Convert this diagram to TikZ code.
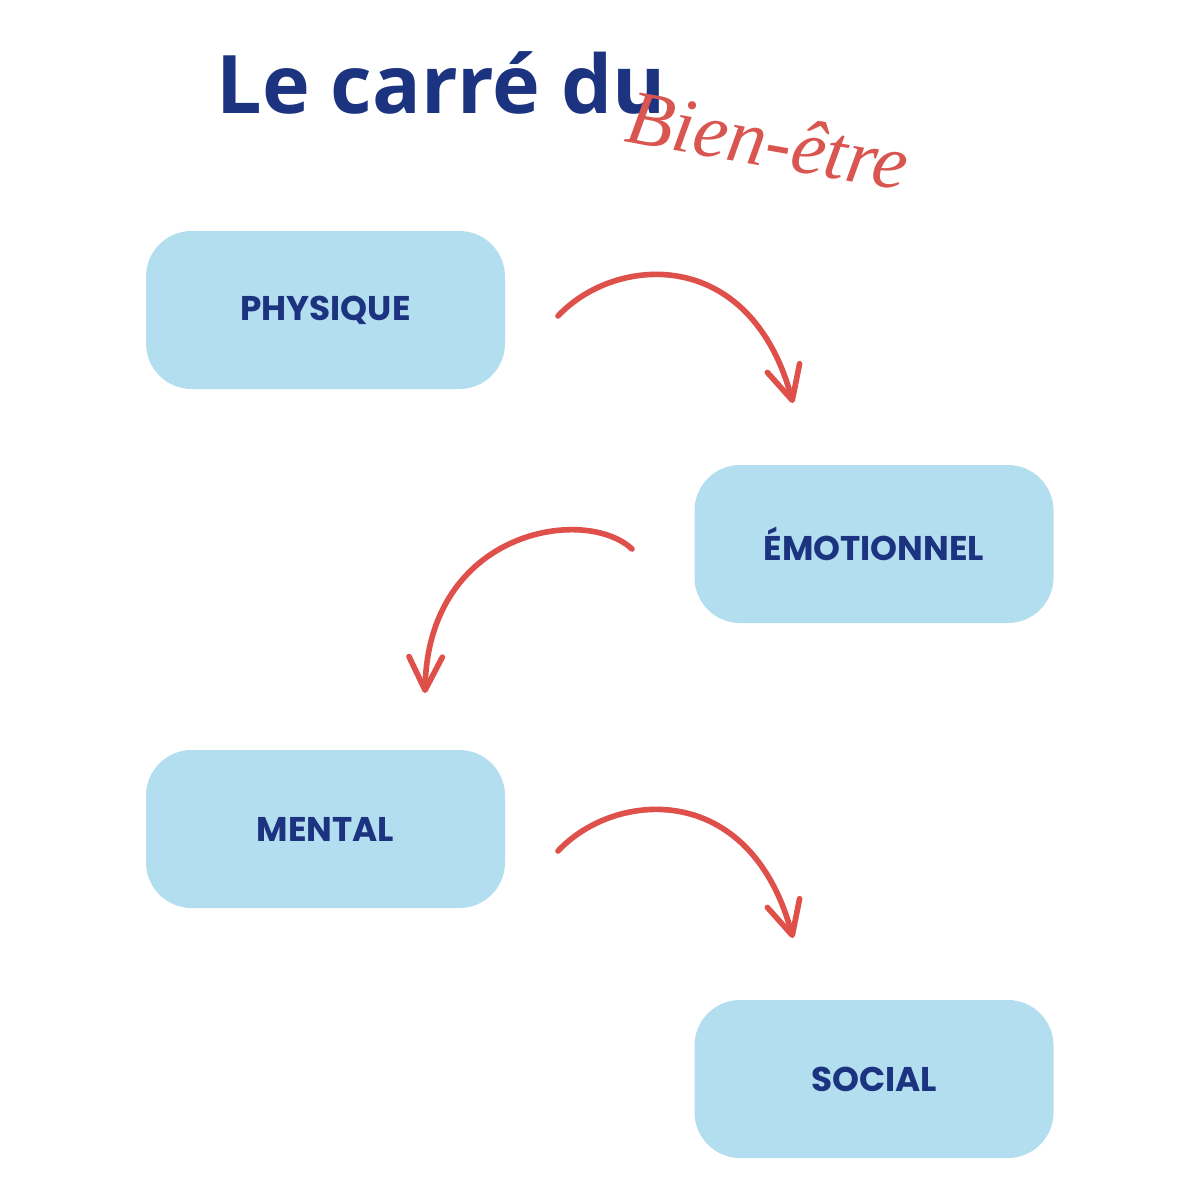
\documentclass[tikz,border=0pt]{standalone}
\usepackage{fontspec}
\usetikzlibrary{arrows.meta}
\newfontfamily\titlefont{Open Sans}
\newfontfamily\boxfont{Poppins}
\newfontfamily\handfont{Liberation Serif}
\definecolor{navy}{HTML}{1C3380}
\definecolor{boxblue}{HTML}{B3DEF0}
\definecolor{arrowred}{HTML}{DE5049}
\definecolor{scriptred}{HTML}{D95550}
\begin{document}
\begin{tikzpicture}[x=0.02cm,y=-0.02cm,
  stage/.style={fill=boxblue, rounded corners=26pt, minimum width=359*0.02cm, minimum height=158*0.02cm,
    inner sep=0pt, font=\boxfont\bfseries\fontsize{19.5}{22}\selectfont, text=navy},
  flow/.style={draw=arrowred, line width=3.2pt, line cap=round, line join=round,
    -{Straight Barb[length=19pt,width=19pt,line cap=round,line join=round]}}]
\useasboundingbox (0,0) rectangle (1200,1200);
\fill[white] (0,0) rectangle (1200,1200);

\node[anchor=base west, inner sep=0pt, text=navy, font=\titlefont\bfseries\fontsize{46}{50}\selectfont] (title) at (216,113) {Le carré du};
\node[rotate=-10, inner sep=0pt, text=scriptred, font=\handfont\itshape\fontsize{44}{48}\selectfont] (script) at (768,140) {Bien-être};

\node[stage] (phys) at (325.5,310) {PHYSIQUE};
\node[stage] (emo) at (874,544) {ÉMOTIONNEL};
\node[stage] (ment) at (325.5,829) {MENTAL};
\node[stage] (soc) at (874,1079) {SOCIAL};

\coordinate (a1s) at (558,316);
\coordinate (a1e) at (793,403);
\coordinate (a2s) at (632,549);
\coordinate (a2e) at (425,693);
\coordinate (a3s) at (558,851);
\coordinate (a3e) at (793,938);

\draw[flow] (a1s) .. controls (615,255) and (750,245) .. (a1e);
\draw[flow] (a2s) .. controls (585,505) and (428,530) .. (a2e);
\draw[flow] (a3s) .. controls (615,790) and (750,780) .. (a3e);
\end{tikzpicture}
\end{document}
